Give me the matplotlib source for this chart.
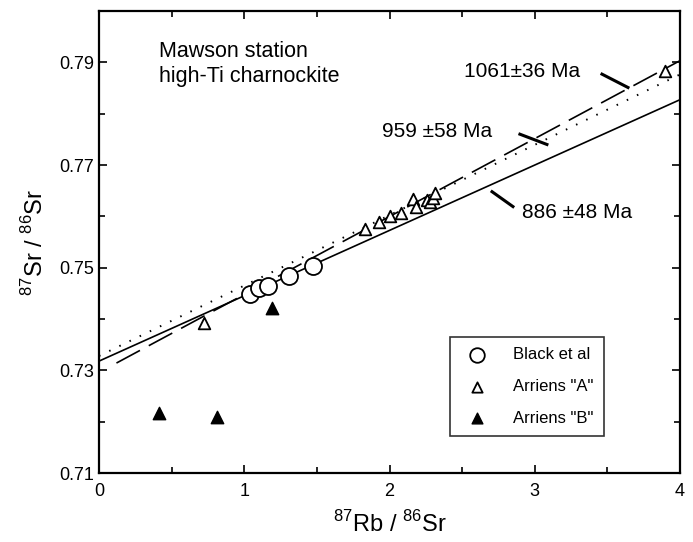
from matplotlib import pyplot as plt
from matplotlib.ticker import FixedLocator, MultipleLocator
import numpy as np

plt.rcParams['font.family'] = ['Liberation Sans', 'DejaVu Sans']
plt.rcParams['mathtext.fontset'] = 'custom'
plt.rcParams['mathtext.rm'] = 'Liberation Sans'

# Black et al
black_x = [1.04, 1.10, 1.16, 1.31, 1.47]
black_y = [0.7449, 0.7461, 0.7465, 0.7484, 0.7504]

# Arriens "A"
arrA_x = [0.72, 1.83, 1.93, 2.00, 2.08, 2.16, 2.18, 2.26, 2.28, 2.30, 2.31, 3.90]
arrA_y = [0.7393, 0.7576, 0.7588, 0.7600, 0.7607, 0.7633, 0.7619, 0.7631, 0.7627, 0.7635, 0.7646, 0.7884]

# Arriens "B"
arrB_x = [0.41, 0.81, 1.19]
arrB_y = [0.7217, 0.7209, 0.7422]

# isochrons: intercept, slope, x range
iso_886 = (0.7318, 0.01273, 0.0, 4.0)
iso_959 = (0.7328, 0.01371, 0.0, 4.0)
iso_1061 = (0.7296, 0.01518, 0.12, 4.0)

yticks = [0.71, 0.73, 0.75, 0.77, 0.79]
yminor = [0.72, 0.74, 0.76, 0.78, 0.80]

fig = plt.figure(figsize=(6.93, 5.42), dpi=100)
ax = fig.add_axes([0.1429, 0.1273, 0.8383, 0.8524])

def iso(p):
    xs = np.array([p[2], p[3]])
    return xs, p[0] + p[1] * xs

x, y = iso(iso_886)
ax.plot(x, y, color='black', lw=1.2, solid_capstyle='butt')
x, y = iso(iso_959)
ax.plot(x, y, color='black', lw=1.4, linestyle=(0, (0.8, 5)))
x, y = iso(iso_1061)
ax.plot(x, y, color='black', lw=1.2, linestyle=(0, (16, 6)))

ax.scatter(black_x, black_y, s=150, marker='o', facecolors='white', edgecolors='black', linewidths=1.3, zorder=3,
           label='Black et al')
ax.scatter(arrA_x, arrA_y, s=70, marker='^', facecolors='white', edgecolors='black', linewidths=1.3, zorder=3,
           label='Arriens "A"')
ax.scatter(arrB_x, arrB_y, s=80, marker='^', facecolors='black', edgecolors='black', linewidths=1.0, zorder=3,
           label='Arriens "B"')

# age labels with leader lines
ax.text(2.91, 0.7882, '1061±36 Ma', fontsize=15, ha='center', va='center')
ax.plot([3.463, 3.642], [0.7877, 0.7851], color='black', lw=2.2)
ax.text(1.948, 0.7765, '959 ±58 Ma', fontsize=15, ha='left', va='center')
ax.plot([2.898, 3.084], [0.7760, 0.7740], color='black', lw=2.2)
ax.text(2.912, 0.7607, '886 ±48 Ma', fontsize=15, ha='left', va='center')
ax.plot([2.706, 2.850], [0.7648, 0.7619], color='black', lw=2.2)

ax.text(0.41, 0.7896, 'Mawson station\nhigh-Ti charnockite', fontsize=15.5, ha='left', va='center',
        linespacing=1.25)

ax.set_xlim(0, 4)
ax.set_ylim(0.71, 0.80)
ax.xaxis.set_major_locator(MultipleLocator(1))
ax.xaxis.set_minor_locator(MultipleLocator(0.5))
ax.yaxis.set_major_locator(FixedLocator(yticks))
ax.yaxis.set_minor_locator(FixedLocator(yminor))
ax.tick_params(which='both', direction='in', top=True, right=True, width=1.2, labelsize=13)
ax.tick_params(which='major', length=6)
ax.tick_params(which='minor', length=4)
ax.tick_params(axis='x', which='major', pad=7)
ax.xaxis.set_major_formatter(plt.FuncFormatter(lambda v, p: '%d' % v))
ax.yaxis.set_major_formatter(plt.FuncFormatter(lambda v, p: '%.2f' % v))
for s in ax.spines.values():
    s.set_linewidth(1.6)

ax.set_xlabel(r'$^{87}$Rb / $^{86}$Sr', fontsize=17, labelpad=8)
ax.set_ylabel(r'$^{87}$Sr / $^{86}$Sr', fontsize=17, labelpad=8)

leg = ax.legend(loc='lower right', bbox_to_anchor=(0.883, 0.063), fontsize=12, frameon=True, fancybox=False,
                edgecolor='black', handletextpad=1.2, labelspacing=1.0, borderpad=0.6)
leg.get_frame().set_linewidth(1.2)
leg.legend_handles[0].set_sizes([110])
leg.legend_handles[1].set_sizes([55])
leg.legend_handles[2].set_sizes([60])

plt.savefig('out.png', dpi=100)
